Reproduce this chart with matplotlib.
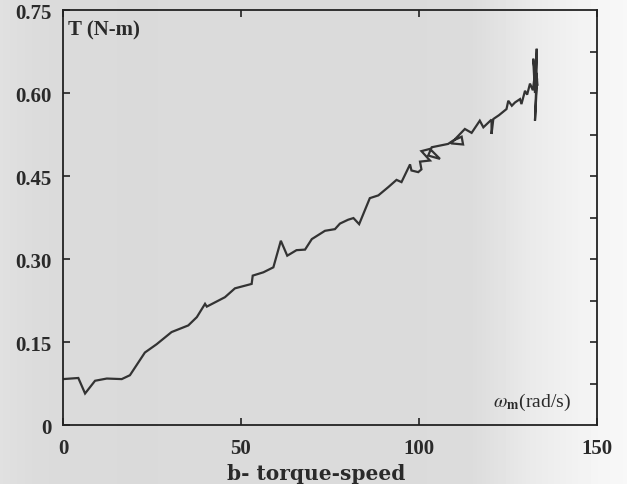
import numpy as np
import matplotlib

matplotlib.use("Agg")
import matplotlib.pyplot as plt
from matplotlib.ticker import FixedLocator

plt.rcParams["font.family"] = ["Liberation Serif", "DejaVu Serif"]
plt.rcParams["mathtext.fontset"] = "stix"

# speed (rad/s) vs torque (N-m)
speed = [
    0.0, 4.3, 6.2, 9.0, 12.3, 16.5, 18.8, 23.0, 26.3, 30.5,
    35.2, 37.6, 39.9, 40.4, 45.5, 48.3, 53.0, 53.3, 56.3, 59.1,
    61.2, 63.0, 65.6, 68.0, 69.9, 73.6, 76.4, 77.8, 80.1, 81.6,
    83.2, 86.2, 88.6, 91.4, 93.7, 95.1, 97.5, 97.9, 99.8, 100.7,
    100.3, 103.1, 100.7, 103.1, 105.9, 102.6, 103.6, 108.2, 109.6, 112.0,
    112.4, 109.0, 112.9, 114.8, 117.1, 118.1, 120.4, 120.4, 120.9, 122.5,
    124.6, 125.1, 126.1, 127.0, 128.4, 128.8, 129.8, 130.4, 131.2, 132.0,
    132.6, 132.1, 132.6, 133.1, 133.0, 132.6, 133.2, 132.8, 133.3,
]
torque = [
    0.083, 0.085, 0.057, 0.080, 0.084, 0.083, 0.090, 0.131, 0.146, 0.168,
    0.180, 0.195, 0.219, 0.214, 0.231, 0.247, 0.255, 0.270, 0.276, 0.285,
    0.333, 0.306, 0.316, 0.317, 0.336, 0.351, 0.354, 0.364, 0.371, 0.374,
    0.363, 0.410, 0.415, 0.430, 0.443, 0.439, 0.471, 0.460, 0.457, 0.462,
    0.476, 0.478, 0.495, 0.499, 0.481, 0.487, 0.502, 0.508, 0.514, 0.521,
    0.507, 0.509, 0.535, 0.528, 0.550, 0.538, 0.552, 0.526, 0.553, 0.560,
    0.571, 0.586, 0.577, 0.583, 0.589, 0.580, 0.604, 0.597, 0.617, 0.605,
    0.635, 0.662, 0.600, 0.680, 0.620, 0.550, 0.625, 0.640, 0.615,
]

x_ticks = [0, 50, 100, 150]
y_ticks = [0, 0.15, 0.30, 0.45, 0.60, 0.75]
y_tick_labels = ["0", "0.15", "0.30", "0.45", "0.60", "0.75"]
right_ticks = [0.075, 0.15, 0.225, 0.30, 0.375, 0.45, 0.525, 0.60, 0.675]

fig = plt.figure(figsize=(6.27, 4.85), dpi=100)

# scanned-paper backdrop: grey on the left, lighter towards the right edge
bg = np.interp(np.linspace(0, 1, 627), [0, 0.06, 0.2, 0.75, 0.85, 0.95, 1.0],
               [0.88, 0.86, 0.855, 0.86, 0.92, 0.96, 0.97])
bg_ax = fig.add_axes([0, 0, 1, 1])
bg_ax.imshow(np.tile(bg, (10, 1)), cmap="gray", vmin=0, vmax=1,
             aspect="auto", extent=[0, 1, 0, 1])
bg_ax.axis("off")

ax = fig.add_axes([0.1005, 0.1216, 0.8515, 0.8557])
ax.patch.set_alpha(0)
ax.plot(speed, torque, color="#333333", lw=1.6, solid_joinstyle="miter")

ax.set_xlim(0, 150)
ax.set_ylim(0, 0.75)
for s in ax.spines.values():
    s.set_color("#222222")
    s.set_linewidth(1.3)

ax.set_xticks(x_ticks)
ax.set_xticklabels([str(v) for v in x_ticks], fontsize=15, fontweight="bold",
                   color="#2a2a2a")
ax.set_yticks(y_ticks)
ax.set_yticklabels(y_tick_labels, fontsize=15, fontweight="bold", color="#2a2a2a")
ax.tick_params(axis="both", direction="in", length=5, width=1.2, color="#222222",
               top=True, pad=9)
ax.tick_params(axis="y", pad=8)

# extra inward ticks along the right edge
ax_r = ax.twinx()
ax_r.set_ylim(0, 0.75)
ax_r.yaxis.set_major_locator(FixedLocator(right_ticks))
ax_r.tick_params(axis="y", direction="in", length=5, width=1.2, color="#222222",
                 labelright=False)
ax_r.spines[:].set_visible(False)

ax.text(1.4, 0.705, "T (N-m)", fontsize=15, fontweight="bold", color="#2a2a2a",
        ha="left", va="baseline")
ax.text(142.7, 0.034, r"$\omega_{\mathbf{m}}$(rad/s)", fontsize=14,
        color="#2a2a2a", ha="right", va="baseline")

fig.text(227 / 627, (485 - 480) / 485, "b- torque-speed", fontsize=14.5,
         fontweight="bold", family="DejaVu Serif", color="#2a2a2a",
         ha="left", va="baseline")

fig.savefig("out.png", dpi=100)
